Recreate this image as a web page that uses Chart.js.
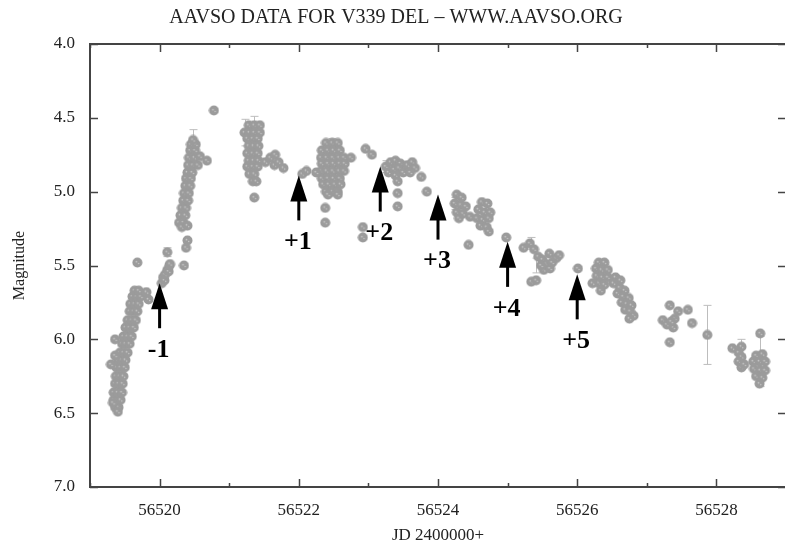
<!DOCTYPE html>
<html>
<head>
<meta charset="utf-8">
<script src="https://cdn.jsdelivr.net/npm/chart.js@4.4.1/dist/chart.umd.min.js"></script>
<style>
  html, body { margin: 0; padding: 0; background: #fff; overflow: hidden; }
  #wrap { width: 792px; height: 548px; }
</style>
</head>
<body>
<div id="wrap"><canvas id="lc" width="792" height="548"></canvas></div>
<script>
// axis ticks
const xTicks = [56520, 56522, 56524, 56526, 56528];
const yTicks = [4.0, 4.5, 5.0, 5.5, 6.0, 6.5, 7.0];

const obs = [
    // first rise
    [56519.36, 6.46], [56519.41, 6.46],
    [56519.34, 6.41], [56519.40, 6.41], [56519.44, 6.41],
    [56519.34, 6.36], [56519.40, 6.36], [56519.46, 6.36],
    [56519.36, 6.30], [56519.41, 6.30], [56519.47, 6.30],
    [56519.37, 6.25], [56519.43, 6.25], [56519.48, 6.25],
    [56519.38, 6.19], [56519.44, 6.19], [56519.50, 6.19],
    [56519.40, 6.14], [56519.46, 6.14], [56519.51, 6.14],
    [56519.43, 6.09], [56519.48, 6.09], [56519.54, 6.09],
    [56519.46, 6.03], [56519.51, 6.03], [56519.57, 6.03],
    [56519.48, 5.98], [56519.54, 5.98], [56519.60, 5.98],
    [56519.51, 5.92], [56519.57, 5.92], [56519.63, 5.92],
    [56519.54, 5.87], [56519.60, 5.87], [56519.66, 5.87],
    [56519.57, 5.81], [56519.63, 5.81], [56519.68, 5.81],
    [56519.58, 5.76], [56519.64, 5.76], [56519.70, 5.76],
    [56519.61, 5.71], [56519.67, 5.71], [56519.73, 5.71],
    [56519.64, 5.67], [56519.70, 5.67],
    [56519.33, 6.43], [56519.40, 6.49], [56519.36, 6.00], [56519.36, 6.11],
    [56519.30, 6.17], [56519.81, 5.68], [56519.84, 5.73], [56519.68, 5.48],
    // around -1
    [56520.03, 5.62], [56520.05, 5.58], [56520.07, 5.60], [56520.08, 5.56],
    [56520.11, 5.53], [56520.13, 5.54], [56520.14, 5.50], [56520.15, 5.49],
    [56520.11, 5.41],
    // steep rise
    [56520.28, 5.21], [56520.34, 5.21],
    [56520.30, 5.16], [56520.37, 5.16],
    [56520.32, 5.11], [56520.38, 5.11],
    [56520.34, 5.06], [56520.41, 5.06],
    [56520.35, 5.01], [56520.42, 5.01],
    [56520.37, 4.96], [56520.44, 4.96],
    [56520.38, 4.91], [56520.45, 4.91],
    [56520.40, 4.87], [56520.47, 4.87],
    [56520.41, 4.82], [56520.48, 4.82], [56520.55, 4.82],
    [56520.42, 4.77], [56520.50, 4.77], [56520.58, 4.76],
    [56520.44, 4.72], [56520.51, 4.72],
    [56520.45, 4.68], [56520.52, 4.68],
    [56520.48, 4.65],
    [56520.32, 5.24], [56520.40, 5.23], [56520.40, 5.33], [56520.38, 5.38],
    [56520.35, 5.50], [56520.68, 4.79],
    [56520.78, 4.45],
    // first plateau
    [56521.28, 4.55], [56521.36, 4.55], [56521.44, 4.55],
    [56521.22, 4.60], [56521.29, 4.60], [56521.36, 4.60], [56521.44, 4.60],
    [56521.26, 4.64], [56521.34, 4.64], [56521.41, 4.64],
    [56521.28, 4.69], [56521.35, 4.69], [56521.42, 4.69],
    [56521.26, 4.74], [56521.34, 4.74], [56521.41, 4.74],
    [56521.28, 4.79], [56521.35, 4.79], [56521.42, 4.79],
    [56521.26, 4.83], [56521.34, 4.83], [56521.41, 4.83],
    [56521.29, 4.88], [56521.36, 4.88],
    [56521.34, 4.93], [56521.39, 4.93],
    [56521.52, 4.80], [56521.59, 4.77], [56521.66, 4.75], [56521.65, 4.82],
    [56521.71, 4.80], [56521.78, 4.84],
    [56521.36, 5.04],
    // around +1
    [56522.05, 4.88], [56522.11, 4.86],
    // second plateau
    [56522.39, 4.67], [56522.48, 4.67], [56522.56, 4.67],
    [56522.33, 4.72], [56522.42, 4.72], [56522.50, 4.72], [56522.59, 4.72],
    [56522.32, 4.77], [56522.40, 4.77], [56522.49, 4.77], [56522.58, 4.77], [56522.65, 4.77],
    [56522.33, 4.81], [56522.42, 4.81], [56522.50, 4.81], [56522.59, 4.81], [56522.66, 4.81],
    [56522.32, 4.86], [56522.40, 4.86], [56522.49, 4.86], [56522.58, 4.86], [56522.65, 4.86],
    [56522.33, 4.91], [56522.42, 4.91], [56522.50, 4.91], [56522.59, 4.91],
    [56522.35, 4.95], [56522.43, 4.95], [56522.52, 4.95], [56522.60, 4.95],
    [56522.39, 5.00], [56522.48, 5.00], [56522.56, 5.00],
    [56522.42, 5.02], [56522.56, 5.02],
    [56522.75, 4.77], [56522.25, 4.87], [56522.38, 5.11], [56522.38, 5.21],
    [56522.92, 5.24], [56522.92, 5.31], [56522.96, 4.71], [56523.05, 4.75],
    // around +2
    [56523.25, 4.83], [56523.32, 4.80], [56523.39, 4.79], [56523.46, 4.81],
    [56523.29, 4.87], [56523.37, 4.85], [56523.44, 4.84], [56523.50, 4.87],
    [56523.39, 4.89],
    [56523.56, 4.82], [56523.63, 4.80], [56523.67, 4.84], [56523.60, 4.87],
    [56523.76, 4.90],
    [56523.42, 4.93], [56523.42, 5.01], [56523.42, 5.10],
    [56523.84, 5.00],
    // around +3
    [56524.27, 5.02], [56524.34, 5.04], [56524.24, 5.08], [56524.33, 5.09],
    [56524.40, 5.10], [56524.27, 5.14], [56524.36, 5.15], [56524.30, 5.18],
    [56524.46, 5.17],
    [56524.63, 5.07], [56524.71, 5.08], [56524.58, 5.12], [56524.67, 5.14],
    [56524.75, 5.14], [56524.56, 5.18], [56524.64, 5.19], [56524.73, 5.18],
    [56524.61, 5.23], [56524.70, 5.24], [56524.73, 5.27],
    [56524.44, 5.36],
    // around +4
    [56524.98, 5.31],
    [56525.23, 5.38], [56525.32, 5.35], [56525.38, 5.39], [56525.44, 5.44],
    [56525.50, 5.46], [56525.55, 5.49], [56525.52, 5.53], [56525.61, 5.52],
    [56525.64, 5.48], [56525.60, 5.42], [56525.70, 5.45], [56525.74, 5.43],
    [56525.48, 5.50],
    [56525.34, 5.61], [56525.41, 5.60],
    // around +5
    [56526.01, 5.52],
    [56526.31, 5.48], [56526.39, 5.48], [56526.27, 5.52], [56526.35, 5.53],
    [56526.44, 5.53], [56526.28, 5.57], [56526.36, 5.58], [56526.44, 5.58],
    [56526.31, 5.62], [56526.39, 5.63], [56526.34, 5.67], [56526.22, 5.62],
    [56526.55, 5.58], [56526.62, 5.60], [56526.52, 5.62], [56526.61, 5.65],
    [56526.68, 5.67], [56526.58, 5.69], [56526.66, 5.71], [56526.74, 5.72],
    [56526.64, 5.75], [56526.71, 5.76], [56526.78, 5.77], [56526.69, 5.80],
    [56526.76, 5.81], [56526.81, 5.84], [56526.75, 5.86],
    // tail
    [56527.33, 5.77], [56527.45, 5.81], [56527.59, 5.80], [56527.23, 5.87],
    [56527.38, 5.92], [56527.40, 5.86], [56527.65, 5.89], [56527.33, 6.02],
    [56527.29, 5.90], [56527.35, 5.88],
    [56527.87, 5.97],
    [56528.23, 6.06], [56528.36, 6.05], [56528.32, 6.09], [56528.36, 6.12],
    [56528.32, 6.15], [56528.36, 6.19], [56528.40, 6.17],
    [56528.57, 6.11], [56528.66, 6.10], [56528.53, 6.15], [56528.62, 6.15],
    [56528.70, 6.15], [56528.54, 6.20], [56528.63, 6.21], [56528.70, 6.21],
    [56528.57, 6.25], [56528.66, 6.26], [56528.62, 6.30],
    [56528.63, 5.96]
];

// error bars: [JD, magnitude, +/- mag]
const errObs = [
    [56520.11, 5.41, 0.03],
    [56520.48, 4.65, 0.07],
    [56521.22, 4.60, 0.09],
    [56521.36, 4.55, 0.06],
    [56522.48, 4.67, 0.03],
    [56523.25, 4.83, 0.04],
    [56524.24, 5.08, 0.04],
    [56525.34, 5.35, 0.04],
    [56525.41, 5.50, 0.05],
    [56527.87, 5.97, 0.20],
    [56528.36, 6.05, 0.05],
    [56528.63, 6.10, 0.12],
    [56528.62, 6.28, 0.04]
];

// arrows marking the spectra dates
const arrowJd = [56520.0, 56522.0, 56523.17, 56524.0, 56525.0, 56526.0];
const arrowMag = [5.62, 4.89, 4.83, 5.02, 5.34, 5.56];
const arrowLabels = ['-1', '+1', '+2', '+3', '+4', '+5'];

const serif = "'Liberation Serif', 'Times New Roman', serif";

// grey marker with faint light specks, like the AAVSO plot symbol
function makeMarker() {
    const c = document.createElement('canvas');
    c.width = 11; c.height = 11;
    const g = c.getContext('2d');
    g.fillStyle = '#9b9b9b';
    g.beginPath(); g.arc(5.5, 5.5, 5, 0, Math.PI * 2); g.fill();
    g.fillStyle = '#c4c4c4';
    g.beginPath(); g.arc(4.5, 4.7, 0.9, 0, Math.PI * 2); g.fill();
    g.beginPath(); g.arc(6.7, 6.5, 0.8, 0, Math.PI * 2); g.fill();
    return c;
}

const errorBars = {
    id: 'errorBars',
    beforeDatasetsDraw(chart) {
        const { ctx, scales: { x, y } } = chart;
        ctx.save();
        ctx.strokeStyle = '#bdbdbd';
        ctx.lineWidth = 1;
        errObs.forEach(([jd, m, e]) => {
            const px = Math.round(x.getPixelForValue(jd)) + 0.5;
            const y1 = y.getPixelForValue(m - e);
            const y2 = y.getPixelForValue(m + e);
            ctx.beginPath();
            ctx.moveTo(px, y1); ctx.lineTo(px, y2);
            ctx.moveTo(px - 4, y1); ctx.lineTo(px + 4, y1);
            ctx.moveTo(px - 4, y2); ctx.lineTo(px + 4, y2);
            ctx.stroke();
        });
        ctx.restore();
    }
};

const frame = {
    id: 'frame',
    beforeDatasetsDraw(chart) {
        const { ctx, chartArea: a, scales: { x, y } } = chart;
        ctx.save();
        ctx.strokeStyle = '#444';
        ctx.lineWidth = 2;
        ctx.beginPath();
        ctx.moveTo(a.right, a.top);
        ctx.lineTo(a.left, a.top);
        ctx.lineTo(a.left, a.bottom);
        ctx.lineTo(a.right, a.bottom);
        ctx.lineTo(a.right, a.top);
        ctx.stroke();

        ctx.lineWidth = 1.5;
        ctx.beginPath();
        // day ticks, long on labelled days
        for (let d = Math.ceil(x.min); d <= x.max; d++) {
            const px = Math.round(x.getPixelForValue(d)) + 0.5;
            const len = xTicks.includes(d) ? 8 : 4;
            ctx.moveTo(px, a.bottom); ctx.lineTo(px, a.bottom - len);
            ctx.moveTo(px, a.top); ctx.lineTo(px, a.top + len);
        }
        yTicks.forEach(v => {
            const py = Math.round(y.getPixelForValue(v)) + 0.5;
            ctx.moveTo(a.left, py); ctx.lineTo(a.left + 8, py);
            ctx.moveTo(a.right, py); ctx.lineTo(a.right - 8, py);
        });
        ctx.stroke();
        ctx.restore();
    }
};

const arrows = {
    id: 'arrows',
    afterDatasetsDraw(chart) {
        const { ctx, scales: { x, y } } = chart;
        ctx.save();
        ctx.fillStyle = '#000';
        ctx.strokeStyle = '#000';
        ctx.font = 'bold 26px ' + serif;
        ctx.textAlign = 'center';
        ctx.textBaseline = 'middle';
        arrowJd.forEach((jd, i) => {
            const px = x.getPixelForValue(jd);
            const py = y.getPixelForValue(arrowMag[i]);
            // head
            ctx.beginPath();
            ctx.moveTo(px, py);
            ctx.lineTo(px - 8.5, py + 26);
            ctx.lineTo(px + 8.5, py + 26);
            ctx.closePath();
            ctx.fill();
            // shaft
            ctx.lineWidth = 3;
            ctx.beginPath();
            ctx.moveTo(px, py + 20);
            ctx.lineTo(px, py + 45);
            ctx.stroke();
            ctx.fillText(arrowLabels[i], px - 1, py + 67);
        });
        ctx.restore();
    }
};

document.addEventListener('DOMContentLoaded', function() {
    const ctx = document.getElementById('lc').getContext('2d');
    const marker = makeMarker();

    new Chart(ctx, {
        type: 'scatter',
        data: {
            datasets: [{
                label: 'V339 Del',
                data: obs.map(([jd, m]) => ({ x: jd, y: m })),
                pointStyle: marker,
                pointRadius: 5,
                pointHoverRadius: 5
            }]
        },
        options: {
            responsive: false,
            animation: false,
            layout: { padding: 0 },
            plugins: {
                legend: { display: false },
                tooltip: { enabled: false },
                title: {
                    display: true,
                    text: 'AAVSO DATA FOR V339 DEL – WWW.AAVSO.ORG',
                    color: '#222',
                    font: { family: serif, size: 20, weight: 'normal' },
                    padding: { top: 6, bottom: 14 }
                }
            },
            scales: {
                x: {
                    type: 'linear',
                    min: 56519,
                    max: 56529,
                    afterBuildTicks: s => { s.ticks = xTicks.map(v => ({ value: v })); },
                    afterFit: s => { s.height = 61; },
                    grid: { display: false, drawTicks: false },
                    border: { display: false },
                    ticks: {
                        color: '#222',
                        font: { family: serif, size: 17 },
                        padding: 13,
                        maxRotation: 0,
                        callback: v => String(v)
                    },
                    title: {
                        display: true,
                        text: 'JD 2400000+',
                        color: '#222',
                        font: { family: serif, size: 17 },
                        padding: { top: 0, bottom: 2 }
                    }
                },
                y: {
                    type: 'linear',
                    reverse: true,
                    min: 4,
                    max: 7,
                    afterBuildTicks: s => { s.ticks = yTicks.map(v => ({ value: v })); },
                    afterFit: s => { s.width = 90; },
                    grid: { display: false, drawTicks: false },
                    border: { display: false },
                    ticks: {
                        color: '#222',
                        font: { family: serif, size: 17 },
                        padding: 15,
                        callback: v => v.toFixed(1)
                    },
                    title: {
                        display: true,
                        text: 'Magnitude',
                        color: '#222',
                        font: { family: serif, size: 16 },
                        padding: { top: 10, bottom: 0 }
                    }
                }
            }
        },
        plugins: [frame, errorBars, arrows]
    });
});
</script>
</body>
</html>
